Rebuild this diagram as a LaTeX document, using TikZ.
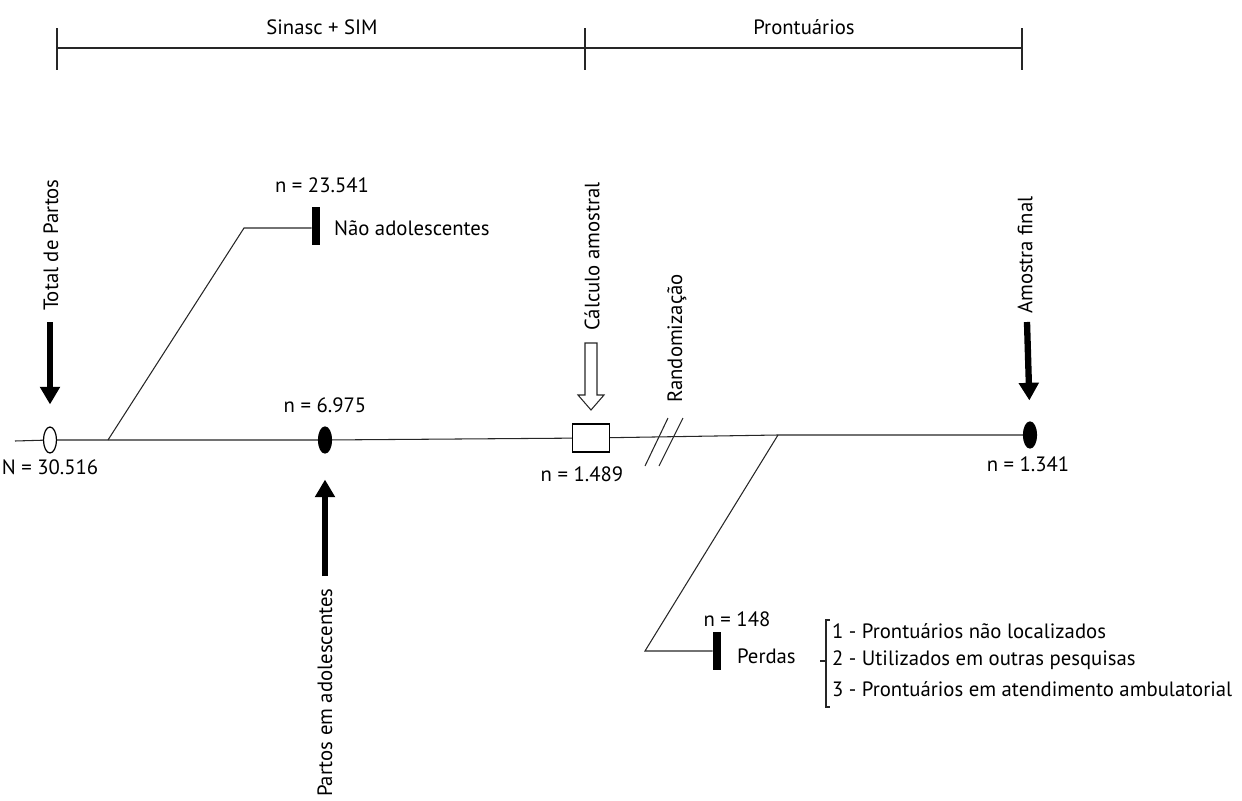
\documentclass[tikz,border=0pt]{standalone}
\usepackage{fontspec}
\setmainfont{PT Sans}
\usetikzlibrary{arrows.meta,shapes.geometric}
\tikzset{
  lbl/.style={font=\fontsize{11.8}{13}\selectfont, inner sep=1pt},
  vlbl/.style={lbl, rotate=90, anchor=west},
  thinline/.style={line width=0.6pt, draw=black!85},
  bigarrow/.style={line width=3.6pt, -{Triangle[width=11pt,length=10pt]}},
  oval/.style={ellipse, draw, line width=0.7pt, minimum width=0.26cm, minimum height=0.52cm, inner sep=0pt},
  stopbar/.style={fill=black, minimum width=0.16cm, minimum height=0.76cm, inner sep=0pt},
}
\begin{document}
\begin{tikzpicture}[x=0.02cm,y=-0.02cm]
\useasboundingbox (0,0) rectangle (1242,801);
% periods
\coordinate (t0) at (57,48);
\coordinate (t1) at (585,48);
\coordinate (t2) at (1022,48);
\draw[thinline] (t0) -- (t1) -- (t2);
\draw[thinline] (57,28) -- (57,70);
\draw[thinline] (585,28) -- (585,70);
\draw[thinline] (1022,28) -- (1022,70);
\node[lbl] (sinasc) at (322,27) {Sinasc + SIM};
\node[lbl] (prontu) at (804,27) {Prontuários};

% main line
\coordinate (start) at (15,441);
\node[oval] (total) at (50,440) {};
\coordinate (split1) at (108,440);
\node[oval, fill=black] (adol) at (325,440) {};
\node[draw, line width=0.7pt, minimum width=0.74cm, minimum height=0.56cm, inner sep=0pt] (calc) at (591,438) {};
\coordinate (split2) at (778,435);
\node[oval, fill=black] (final) at (1030,435) {};
\draw[thinline] (start) -- (total) -- (split1) -- (adol) -- (calc) -- (split2) -- (final);

% slashes
\draw[thinline] (645,466) -- (668,418);
\draw[thinline] (659,466) -- (683,418);

% nao adolescentes
\coordinate (knee1) at (244,228);
\node[stopbar] (naoad) at (316,226) {};
\draw[thinline] (split1) -- (knee1) -- (naoad.west |- knee1);
\node[lbl] (n1) at (322,185) {n = 23.541};
\node[lbl, anchor=west] (naoadtxt) at (332,228) {Não adolescentes};

% perdas
\coordinate (knee2) at (645,651);
\node[stopbar] (perdas) at (717,651) {};
\draw[thinline] (split2) -- (knee2) -- (perdas.west |- knee2);
\node[lbl] (n148) at (737,619) {n = 148};
\node[lbl, anchor=west] (perdastxt) at (735,656) {Perdas};
\draw[thinline] (830,620) -- (826,620) -- (826,707) -- (830,707);
\draw[thinline] (820,661) -- (826,661);
\node[lbl, anchor=west] (item1) at (830,631) {1 - Prontuários não localizados};
\node[lbl, anchor=west] (item2) at (830,660) {2 - Utilizados em outras pesquisas};
\node[lbl, anchor=west] (item3) at (830,689) {3 - Prontuários em atendimento ambulatorial};

% counts
\node[lbl] (n0) at (50,467) {N = 30.516};
\node[lbl] (n2) at (325,405) {n = 6.975};
\node[lbl] (n3) at (582,474) {n = 1.489};
\node[lbl] (n4) at (1028,464) {n = 1.341};

% vertical labels and arrows
\node[vlbl] (totaltxt) at (51,313) {Total de Partos};
\draw[bigarrow, shorten >=0.44cm] (50,322) -- (total.north);
\node[vlbl] (adoltxt) at (325,799) {Partos em adolescentes};
\draw[bigarrow, shorten >=0.52cm] ([yshift=0.2cm]adoltxt.east) -- (adol.south);
\node[vlbl] (calctxt) at (592,333) {Cálculo amostral};
\draw[thinline] (585,343) -- (597,343) -- (597,395) -- (604,395) -- (591,410) -- (578,395) -- (585,395) -- cycle;
\node[vlbl] (randtxt) at (677,405) {Randomização};
\node[vlbl] (finaltxt) at (1025,316) {Amostra final};
\draw[bigarrow, shorten >=0.42cm] (1027,322) -- (final.north);
\end{tikzpicture}
\end{document}
